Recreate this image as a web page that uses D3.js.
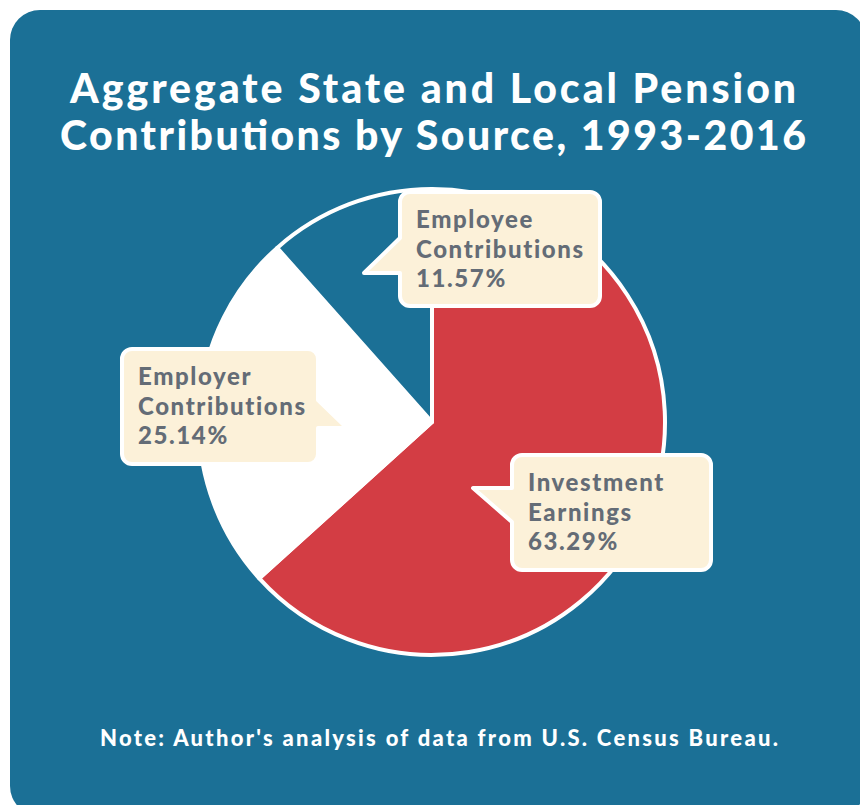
<!DOCTYPE html>
<html>
<head>
<meta charset="utf-8">
<script src="https://cdn.jsdelivr.net/npm/d3@7"></script>
<style>
  body { margin: 0; background: #fff; }
  text { font-family: Lato, "Open Sans", sans-serif; font-weight: 900; }
</style>
</head>
<body>
<div id="chart"></div>
<script>
const width = 860;
const height = 805;

const titleLines = ['Aggregate State and Local Pension', 'Contributions by Source, 1993-2016'];
const note = "Note: Author's analysis of data from U.S. Census Bureau.";

// slices, clockwise from 12 o'clock
const categories = ['Investment Earnings', 'Employer Contributions', 'Employee Contributions'];
const shares = [63.29, 25.14, 11.57];
const sliceColors = ['#d33d44', '#ffffff', '#1b7096'];

// callout label lines per slice
const labelLines = [
    ['Investment', 'Earnings', '63.29%'],
    ['Employer', 'Contributions', '25.14%'],
    ['Employee', 'Contributions', '11.57%']
];

const bg = '#1b7096';
const cx = 432, cy = 422, radius = 233;

const svg = d3.select('#chart')
    .append('svg')
    .attr('width', width)
    .attr('height', height);

svg.append('rect')
    .attr('x', 10)
    .attr('y', 10)
    .attr('width', 856)
    .attr('height', 806)
    .attr('rx', 30)
    .attr('fill', bg);

const titleWidths = [726, 746];
svg.selectAll('.title')
    .data(titleLines)
    .enter()
    .append('text')
    .attr('class', 'title')
    .attr('x', 433)
    .attr('y', (d, i) => 103 + i * 47)
    .attr('text-anchor', 'middle')
    .attr('fill', '#fff')
    .attr('font-size', 41)
    .attr('textLength', (d, i) => titleWidths[i])
    .attr('lengthAdjust', 'spacing')
    .text(d => d);

const pie = d3.pie().sort(null).value(d => d)(shares);
const arc = d3.arc().innerRadius(0).outerRadius(radius);

const pieGroup = svg.append('g').attr('transform', `translate(${cx},${cy})`);

pieGroup.selectAll('path')
    .data(pie)
    .enter()
    .append('path')
    .attr('d', arc)
    .attr('fill', (d, i) => sliceColors[i])
    .attr('stroke', '#fff')
    .attr('stroke-width', 4)
    .attr('stroke-linejoin', 'round');

// callout boxes: box rect, pointer tip, pointer side
const callouts = [
    { x: 512, y: 455, w: 199, h: 115, side: 'left', tip: [473, 488], a: 488, b: 522 },
    { x: 122, y: 349, w: 196, h: 115, side: 'right', tip: [347, 428], a: 400, b: 428 },
    { x: 400, y: 192, w: 200, h: 114, side: 'left', tip: [364, 273], a: 238, b: 273 }
];

function calloutPath(c) {
    const r = 10;
    const x0 = c.x, y0 = c.y, x1 = c.x + c.w, y1 = c.y + c.h;
    const p = d3.path();
    p.moveTo(x0 + r, y0);
    p.lineTo(x1 - r, y0);
    p.arcTo(x1, y0, x1, y0 + r, r);
    if (c.side === 'right') {
        p.lineTo(x1, c.a);
        p.lineTo(c.tip[0], c.tip[1]);
        p.lineTo(x1, c.b);
    }
    p.lineTo(x1, y1 - r);
    p.arcTo(x1, y1, x1 - r, y1, r);
    p.lineTo(x0 + r, y1);
    p.arcTo(x0, y1, x0, y1 - r, r);
    if (c.side === 'left') {
        p.lineTo(x0, c.b);
        p.lineTo(c.tip[0], c.tip[1]);
        p.lineTo(x0, c.a);
    }
    p.lineTo(x0, y0 + r);
    p.arcTo(x0, y0, x0 + r, y0, r);
    p.closePath();
    return p.toString();
}

const labels = svg.selectAll('.callout')
    .data(callouts)
    .enter()
    .append('g')
    .attr('class', 'callout');

labels.append('path')
    .attr('d', calloutPath)
    .attr('fill', '#fcf1d9')
    .attr('stroke', '#fff')
    .attr('stroke-width', 4)
    .attr('stroke-linejoin', 'round');

labels.each(function (c, i) {
    d3.select(this).selectAll('text')
        .data(labelLines[i])
        .enter()
        .append('text')
        .attr('x', c.x + 16)
        .attr('y', (d, j) => c.y + 36 + j * 29.5)
        .attr('fill', '#646c76')
        .attr('font-size', 24)
        .attr('letter-spacing', 1.6)
        .text(d => d);
});

svg.append('text')
    .attr('x', 439)
    .attr('y', 746)
    .attr('text-anchor', 'middle')
    .attr('fill', '#fff')
    .attr('font-size', 22)
    .attr('textLength', 678)
    .attr('lengthAdjust', 'spacing')
    .text(note);
</script>
</body>
</html>
